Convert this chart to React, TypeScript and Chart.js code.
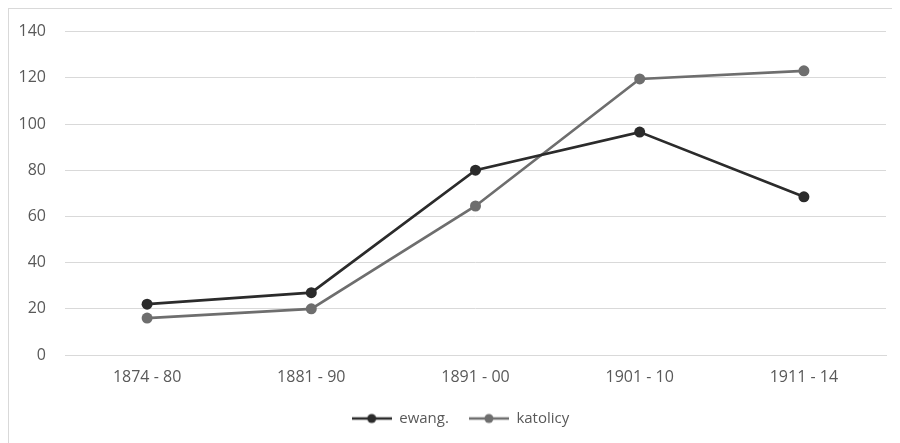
import React, { useEffect, useRef } from "react";
import { Chart, registerables } from "chart.js";

Chart.register(...registerables);

const categories = ["1874 - 80", "1881 - 90", "1891 - 00", "1901 - 10", "1911 - 14"];
const ewang = [22, 27, 80, 96.5, 68.5];
const katolicy = [16, 20, 64.5, 119.5, 123];
const yTicks = [0, 20, 40, 60, 80, 100, 120, 140];

const EWANG_COLOR = "#2b2b2b";
const KAT_COLOR = "#6e6e6e";
const FONT = "'Open Sans', 'Liberation Sans', sans-serif";

function legendMarker(color: string): HTMLCanvasElement {
  const c = document.createElement("canvas");
  c.width = 40;
  c.height = 12;
  const ctx = c.getContext("2d")!;
  ctx.strokeStyle = color;
  ctx.lineWidth = 2.5;
  ctx.beginPath();
  ctx.moveTo(0, 6);
  ctx.lineTo(40, 6);
  ctx.stroke();
  ctx.fillStyle = color;
  ctx.beginPath();
  ctx.arc(20, 6, 4.5, 0, Math.PI * 2);
  ctx.fill();
  return c;
}

const legendShift = {
  id: "legendShift",
  afterLayout(chart: any) {
    const lg = chart.legend;
    if (lg) {
      lg.left += 13;
      lg.right += 13;
    }
  },
};

export default function App() {
  const ref = useRef<HTMLCanvasElement | null>(null);

  useEffect(() => {
    if (!ref.current) return;
    const markers = [legendMarker(EWANG_COLOR), legendMarker(KAT_COLOR)];
    const chart = new Chart(ref.current, {
      type: "line",
      data: {
        labels: categories,
        datasets: [
          {
            label: "ewang.",
            data: ewang,
            borderColor: EWANG_COLOR,
            backgroundColor: EWANG_COLOR,
            borderWidth: 2.7,
            pointRadius: 5.5,
            pointHoverRadius: 5.5,
            pointBackgroundColor: EWANG_COLOR,
            pointBorderWidth: 0,
            tension: 0,
          },
          {
            label: "katolicy",
            data: katolicy,
            borderColor: KAT_COLOR,
            backgroundColor: KAT_COLOR,
            borderWidth: 2.7,
            pointRadius: 5.5,
            pointHoverRadius: 5.5,
            pointBackgroundColor: KAT_COLOR,
            pointBorderWidth: 0,
            tension: 0,
          },
        ],
      },
      plugins: [legendShift],
      options: {
        responsive: false,
        animation: false,
        layout: { padding: { top: 15, right: 14, bottom: 8, left: 0 } },
        plugins: {
          tooltip: { enabled: false },
          legend: {
            position: "bottom",
            labels: {
              usePointStyle: true,
              pointStyleWidth: 40,
              padding: 20,
              color: "#595959",
              font: { family: FONT, size: 15 },
              generateLabels: (chart: any) =>
                chart.data.datasets.map((ds: any, i: number) => ({
                  text: ds.label,
                  fillStyle: ds.borderColor,
                  strokeStyle: ds.borderColor,
                  fontColor: "#595959",
                  pointStyle: markers[i],
                  lineWidth: 0,
                  hidden: false,
                  datasetIndex: i,
                })),
            },
          },
        },
        scales: {
          x: {
            offset: true,
            grid: { display: false, drawTicks: false },
            border: { display: true, color: "#d9d9d9", width: 1 },
            ticks: {
              color: "#595959",
              font: { family: FONT, size: 16 },
              padding: 13,
              maxRotation: 0,
            },
            afterFit: (s: any) => {
              s.height = 36;
            },
          },
          y: {
            min: 0,
            max: 140,
            afterBuildTicks: (s: any) => {
              s.ticks = yTicks.map((v) => ({ value: v }));
            },
            grid: { color: "#d9d9d9", drawTicks: false, lineWidth: 1 },
            border: { display: false },
            ticks: {
              color: "#595959",
              font: { family: FONT, size: 16 },
              padding: 19,
            },
            afterFit: (s: any) => {
              s.width = 56;
            },
          },
        },
      },
    });
    return () => chart.destroy();
  }, []);

  return (
    <div
      style={{
        width: 891,
        height: 434,
        borderTop: "1px solid #d9d9d9",
        borderLeft: "1px solid #d9d9d9",
        background: "#fff",
        overflow: "hidden",
      }}
    >
      <canvas
        ref={ref}
        width={891}
        height={441}
        style={{ display: "block", marginTop: -6 }}
      />
    </div>
  );
}
